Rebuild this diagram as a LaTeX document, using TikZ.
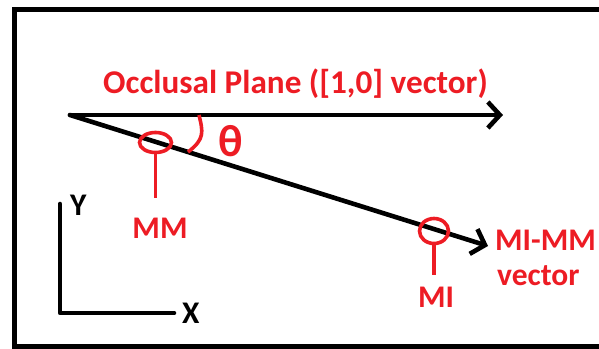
\documentclass[tikz,border=0pt]{standalone}
\usepackage{fontspec}
\setmainfont{Carlito}
\usetikzlibrary{shapes.geometric,arrows.meta,positioning,calc}
\definecolor{paintred}{RGB}{237,28,36}

\begin{document}
\begin{tikzpicture}[
    x=1pt, y=-1pt,
    frame/.style={draw, line width=5pt},
    vec/.style={-{Straight Barb[length=12pt,width=26pt]}, line width=4.6pt,
                line cap=round, line join=round},
    axisline/.style={line width=4.6pt, line cap=round, line join=round},
    ring/.style={ellipse, draw=paintred, line width=3.6pt, inner sep=0pt},
    stem/.style={draw=paintred, line width=3.6pt},
    lbl/.style={text=paintred, inner sep=0pt, font=\fontsize{31.5}{35}\selectfont\bfseries},
    axlbl/.style={text=black, inner sep=0pt, font=\fontsize{31.5}{35}\selectfont\bfseries}
]
\clip (0,0) rectangle (599,348);
\draw[frame] (14,9) rectangle (620,346.5);

% vectors
\coordinate (origin) at (70,115);
\coordinate (occend) at (503,115);
\coordinate (vecend) at (488,246);
\draw[vec] (origin) -- (occend);
\draw[vec] (origin) -- (vecend);
\node[lbl, anchor=base west, font=\fontsize{33.2}{36}\selectfont\bfseries] (occlbl) at (103,93) {Occlusal Plane ([1,0] vector)};

% angle
\coordinate (arcstart) at (199,115);
\coordinate (arcend) at (188,152);
\draw[stem] (arcstart) .. controls (203,132) and (205,139) .. (arcend);
\node[lbl, font=\fontsize{45}{48}\selectfont\bfseries] (theta) at (230.5,141) {θ};

% landmarks
\node[ring, minimum width=32pt, minimum height=20pt] (mm) at (155.5,142.5) {};
\node[ring, minimum width=29pt, minimum height=25pt] (mi) at (434,231) {};
\coordinate (mmfoot) at (155.5,198);
\coordinate (mifoot) at (434,275);
\draw[stem] (mm.south) -- (mmfoot);
\draw[stem] (mi.south) -- (mifoot);
\node[lbl, anchor=base] (mmlbl) at (160,238) {MM};
\node[lbl, anchor=base] (milbl) at (436,307) {MI};
\node[lbl, anchor=base west] (veclbl) at (495,250) {MI-MM};
\node[lbl, anchor=base west] (veclbl2) at (497,285) {vector};

% axes
\coordinate (ytop) at (60,204);
\coordinate (xend) at (174,313);
\draw[axisline] (ytop) |- (xend);
\node[axlbl, anchor=base west] (ylbl) at (70,215) {Y};
\node[axlbl, anchor=base west] (xlbl) at (182,323) {X};
\end{tikzpicture}
\end{document}
